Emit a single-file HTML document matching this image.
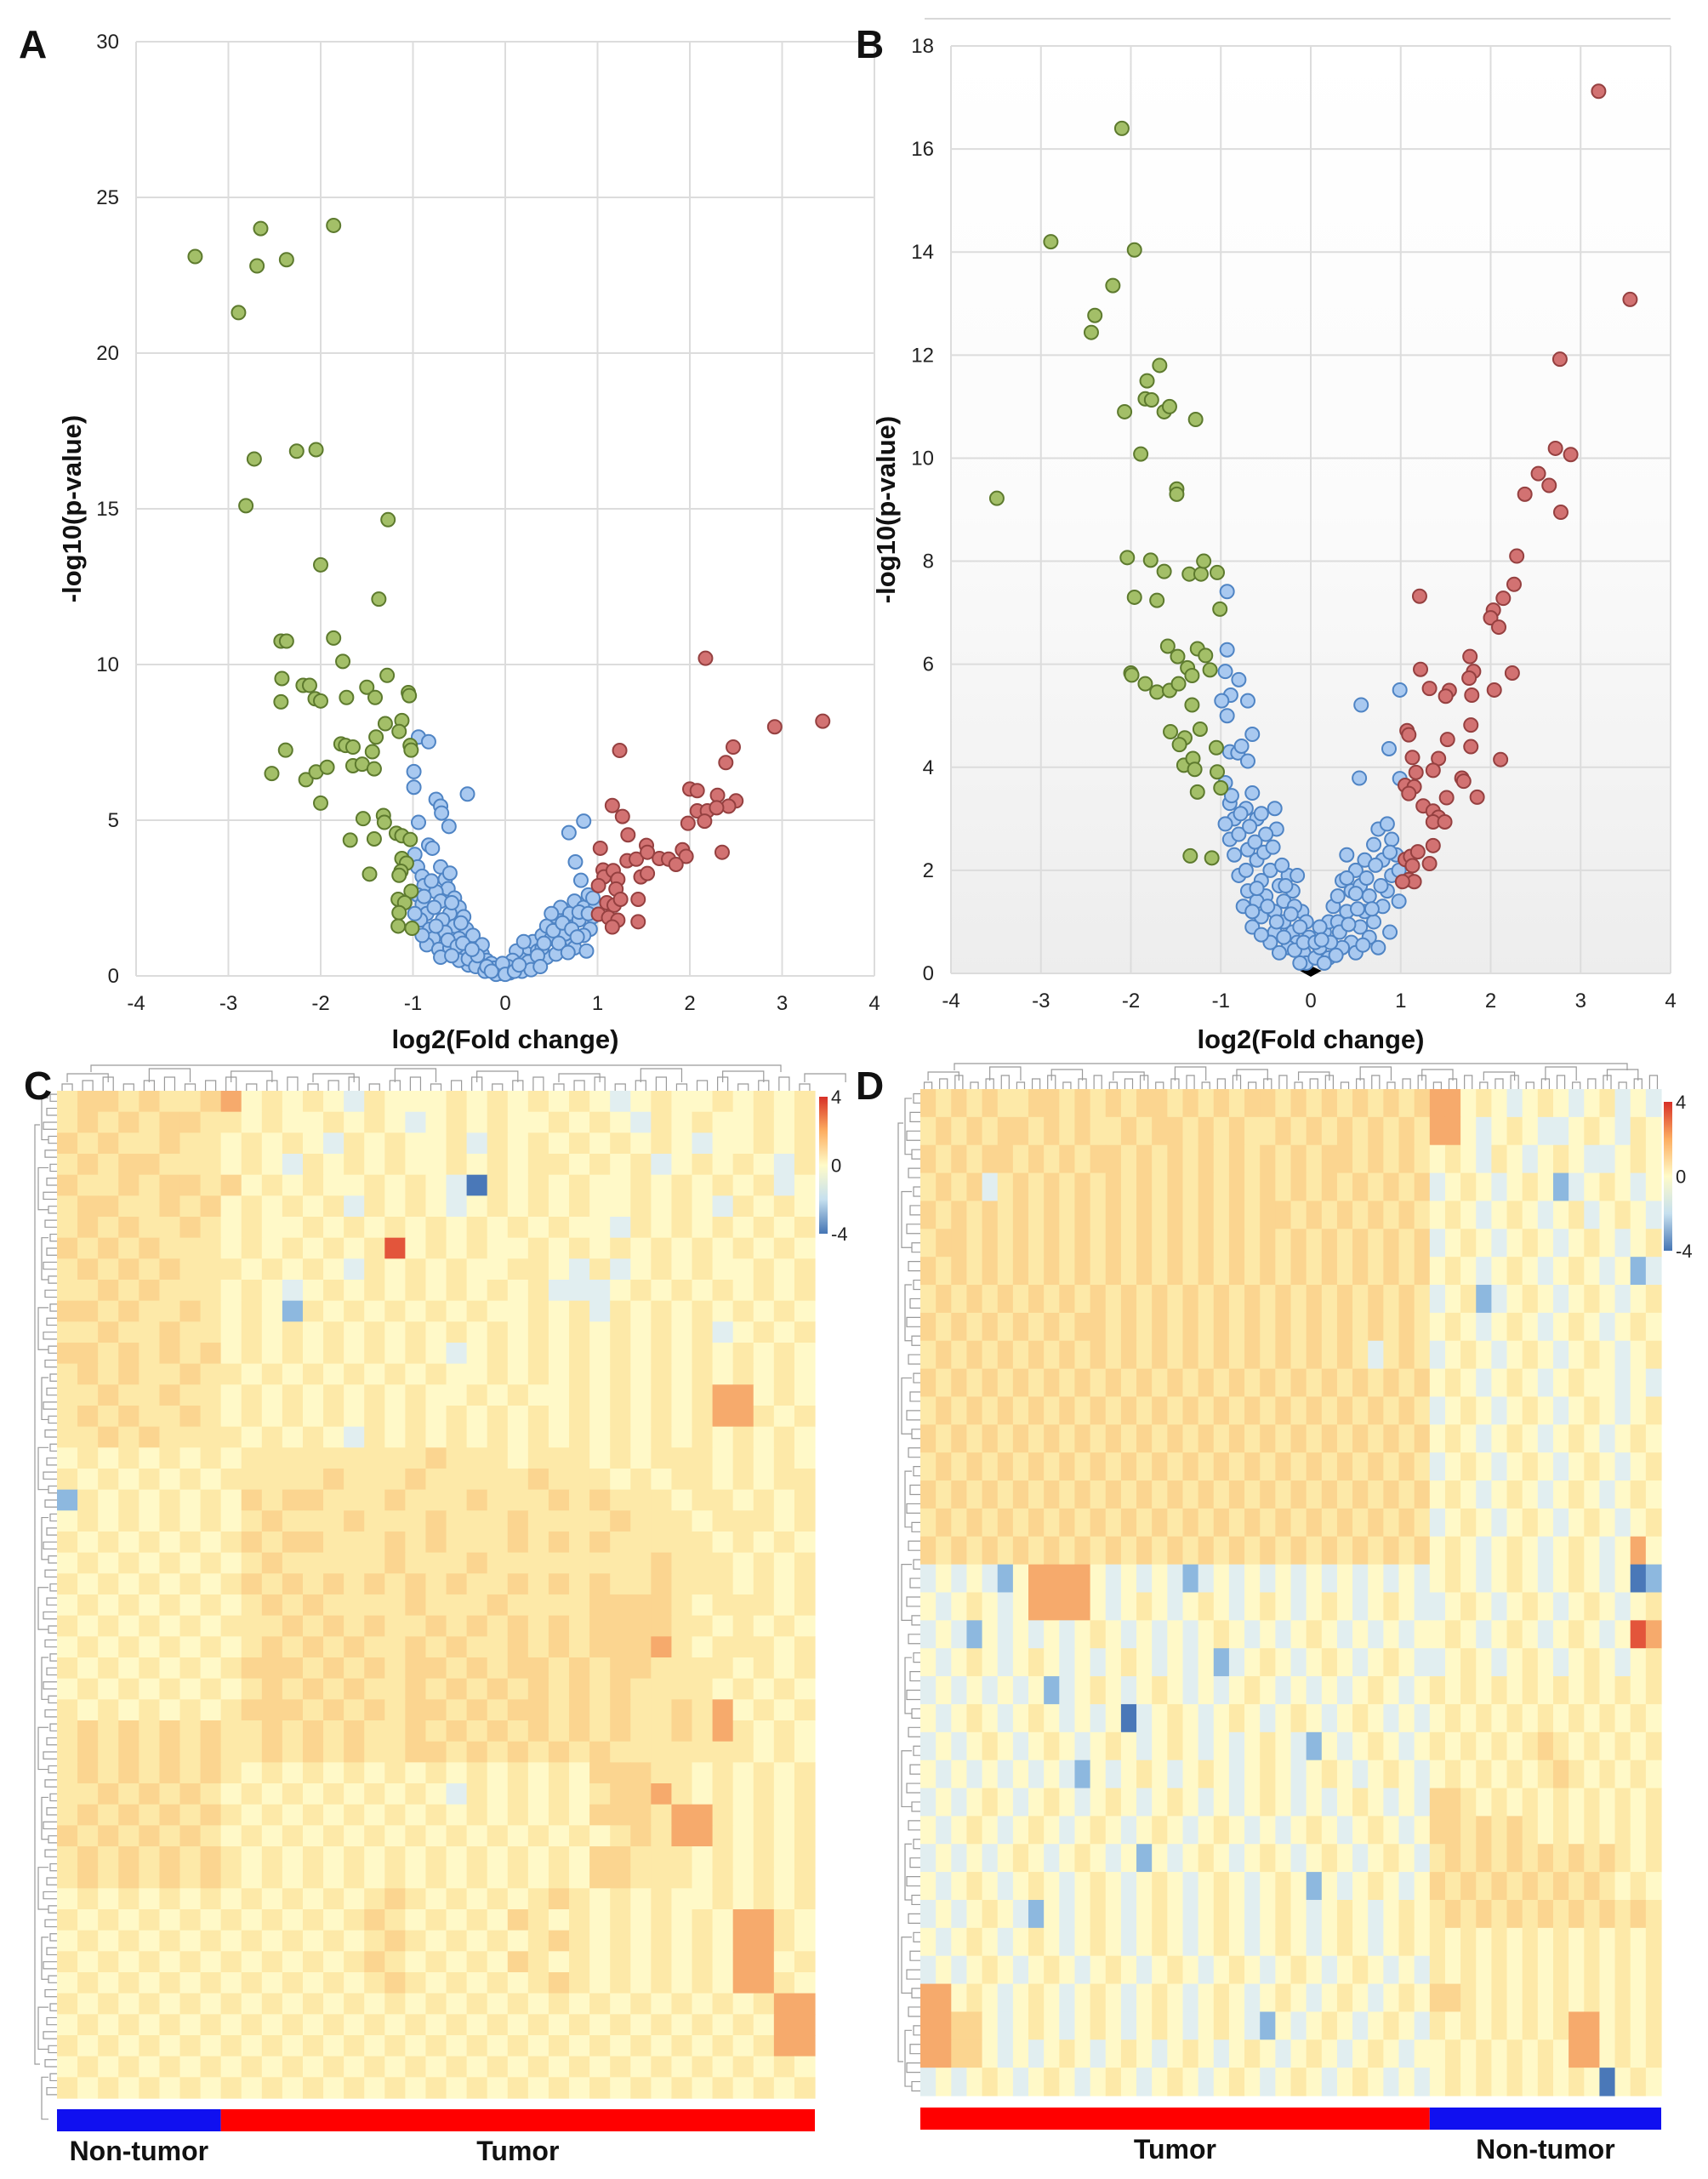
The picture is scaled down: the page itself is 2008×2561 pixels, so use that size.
<!DOCTYPE html>
<html><head><meta charset="utf-8"><style>
html,body{margin:0;padding:0;background:#fff;}
svg{display:block;font-family:"Liberation Sans",sans-serif;}
</style></head><body>
<svg id="fig" width="2008" height="2561" viewBox="0 0 2008 2561">
<defs>
<linearGradient id="bgB" x1="0" y1="0" x2="0" y2="1">
<stop offset="0" stop-color="#ffffff"/><stop offset="0.5" stop-color="#fbfbfb"/><stop offset="1" stop-color="#ededed"/>
</linearGradient>
<linearGradient id="cbar" x1="0" y1="0" x2="0" y2="1">
<stop offset="0" stop-color="#d73027"/><stop offset="0.25" stop-color="#fdae61"/><stop offset="0.5" stop-color="#fffbc8"/><stop offset="0.75" stop-color="#c6e0ef"/><stop offset="1" stop-color="#4575b4"/>
</linearGradient>
</defs>
<g id="layer"></g>
</svg>
<script>
// ---- Volcano A data ----
const aGreen=[[-3.36,23.1],[-2.65,24.0],[-2.69,22.8],[-2.37,23.0],[-1.86,24.1],[-2.89,21.3],[-2.26,16.85],[-2.05,16.9],[-2.72,16.6],[-2.81,15.1],[-1.27,14.65],[-2.0,13.2],[-1.37,12.1],[-2.43,10.75],[-2.37,10.75],[-1.86,10.85],[-1.76,10.1],[-2.42,9.55],[-1.28,9.65],[-2.19,9.33],[-2.12,9.33],[-2.43,8.8],[-2.06,8.9],[-2.0,8.83],[-1.72,8.94],[-1.5,9.27],[-1.41,8.94],[-1.05,9.1],[-1.04,9.0],[-1.3,8.1],[-1.12,8.2],[-1.15,7.85],[-1.03,7.4],[-1.02,7.25],[-1.78,7.45],[-1.73,7.4],[-1.65,7.35],[-1.4,7.67],[-1.44,7.2],[-2.38,7.25],[-2.53,6.5],[-2.16,6.3],[-2.05,6.55],[-1.93,6.7],[-1.65,6.75],[-1.55,6.8],[-1.42,6.65],[-2.0,5.55],[-1.54,5.05],[-1.32,5.15],[-1.31,4.93],[-1.68,4.36],[-1.42,4.4],[-1.18,4.58],[-1.12,4.5],[-1.03,4.38],[-1.12,3.77],[-1.07,3.62],[-1.13,3.36],[-1.15,3.23],[-1.47,3.27],[-1.02,2.72],[-1.16,2.46],[-1.09,2.35],[-1.15,2.03],[-1.16,1.6],[-1.01,1.53]];
const aRed=[[2.17,10.2],[3.44,8.18],[2.92,8.0],[2.47,7.35],[1.24,7.24],[2.39,6.85],[2.0,6.0],[2.08,5.95],[2.3,5.8],[2.5,5.62],[2.42,5.45],[2.08,5.3],[2.19,5.3],[2.29,5.4],[2.16,4.97],[1.98,4.9],[1.16,5.47],[1.27,5.12],[1.33,4.53],[2.35,3.97],[1.03,4.1],[1.53,4.19],[1.92,4.05],[1.32,3.7],[1.42,3.75],[1.54,3.97],[1.67,3.77],[1.77,3.75],[1.96,3.84],[1.85,3.58],[1.06,3.4],[1.07,3.18],[1.17,3.38],[1.22,3.1],[1.47,3.18],[1.54,3.29],[1.01,2.9],[1.2,2.79],[1.1,2.35],[1.18,2.27],[1.25,2.46],[1.44,2.46],[1.01,1.98],[1.12,1.87],[1.22,1.79],[1.16,1.57],[1.44,1.74]];
const aBlue=[[-0.94,7.67],[-0.83,7.52],[-0.99,6.56],[-0.99,6.06],[-0.41,5.84],[-0.75,5.67],[-0.7,5.45],[-0.69,5.23],[-0.61,4.8],[-0.94,4.93],[0.85,4.97],[0.69,4.6],[-0.83,4.2],[-0.79,4.1],[0.76,3.66],[0.82,3.07],
[-0.98,3.9],[-0.95,3.5],[-0.9,3.2],[-0.88,2.9],[-0.95,2.6],[-0.9,2.3],[-0.85,2.0],[-0.92,1.8],[-0.82,1.5],[-0.78,1.2],[-0.85,1.0],[-0.72,0.85],[-0.7,3.5],[-0.65,3.1],[-0.6,3.3],[-0.62,2.8],[-0.75,2.7],[-0.7,2.4],[-0.55,2.5],[-0.5,2.2],[-0.6,2.0],[-0.68,1.8],[-0.45,1.9],[-0.42,1.5],[-0.55,1.6],[-0.65,1.4],[-0.5,1.2],[-0.38,1.1],[-0.6,0.9],[-0.45,0.8],[-0.3,0.9],[-0.35,0.6],[-0.25,0.7],[-0.2,0.5],[-0.15,0.4],[-0.28,0.4],[-0.12,0.25],[-0.08,0.15],[-0.05,0.08],[-0.18,0.2],[-0.4,0.35],[-0.5,0.5],[-0.8,3.05],[-0.77,2.2],[-0.98,2.0],[-0.35,1.3],[-0.25,1.0],
[-0.9,1.3],[-0.75,1.6],[-0.62,1.15],[-0.52,0.95],[-0.4,0.55],[-0.32,0.3],[-0.22,0.15],[-0.1,0.05],[-0.7,0.6],[-0.58,0.65],[-0.46,1.05],[-0.3,0.65],[-0.2,0.3],[-0.15,0.15],[-0.88,2.55],[-0.58,2.35],[-0.48,1.7],[-0.36,0.85],
[0.05,0.1],[0.1,0.3],[0.15,0.5],[0.2,0.7],[0.25,0.9],[0.12,0.8],[0.08,0.5],[0.3,1.1],[0.35,0.8],[0.4,1.3],[0.45,1.6],[0.5,1.2],[0.55,1.9],[0.6,2.2],[0.5,2.0],[0.65,1.6],[0.7,2.0],[0.75,2.4],[0.8,1.8],[0.85,2.2],[0.9,2.6],[0.95,1.9],[0.92,1.5],[0.85,1.3],[0.7,1.1],[0.6,0.9],[0.45,0.6],[0.3,0.4],[0.2,0.3],[0.55,0.7],[0.75,0.9],[0.88,0.8],[0.65,1.35],[0.98,2.3],[0.4,0.9],[0.2,1.1],[0.18,0.15],[0.03,0.3],[-0.03,0.4],[0.0,0.05],
[0.1,0.15],[0.25,0.45],[0.35,0.65],[0.42,1.05],[0.52,1.45],[0.62,1.7],[0.72,1.5],[0.8,2.05],[0.9,2.0],[0.95,2.5],[0.28,0.2],[0.38,0.3],[0.15,0.35],[0.58,1.05],[0.68,0.75],[0.78,1.25]];
const aXTicks=[-4,-3,-2,-1,0,1,2,3,4];
const aYTicks=[0,5,10,15,20,25,30];
// ---- Volcano B data ----
const bGreen=[[-3.49,9.22],[-2.89,14.2],[-2.1,16.4],[-1.96,14.04],[-2.2,13.35],[-2.4,12.77],[-2.44,12.44],[-1.68,11.8],[-1.82,11.5],[-1.84,11.15],[-1.77,11.13],[-1.63,10.9],[-1.57,11.0],[-2.07,10.9],[-1.28,10.75],[-1.89,10.08],[-1.49,9.4],[-1.49,9.3],[-2.04,8.07],[-1.78,8.02],[-1.63,7.8],[-1.35,7.75],[-1.22,7.75],[-1.19,8.0],[-1.04,7.78],[-1.01,7.07],[-1.96,7.3],[-1.71,7.24],[-1.59,6.35],[-1.26,6.3],[-1.48,6.15],[-1.17,6.17],[-2.0,5.83],[-1.99,5.79],[-1.84,5.62],[-1.71,5.46],[-1.57,5.49],[-1.47,5.62],[-1.37,5.93],[-1.32,5.78],[-1.12,5.89],[-1.32,5.21],[-1.56,4.69],[-1.23,4.74],[-1.4,4.57],[-1.46,4.44],[-1.05,4.38],[-1.41,4.04],[-1.31,4.17],[-1.29,3.96],[-1.04,3.91],[-1.0,3.6],[-1.26,3.52],[-1.34,2.28],[-1.1,2.24]];
const bRed=[[3.2,17.12],[3.55,13.08],[2.77,11.92],[2.72,10.19],[2.89,10.07],[2.53,9.7],[2.65,9.47],[2.38,9.3],[2.78,8.95],[2.29,8.1],[2.26,7.55],[2.14,7.28],[1.21,7.32],[2.03,7.05],[2.0,6.9],[2.09,6.72],[1.77,6.15],[1.81,5.86],[1.76,5.73],[2.24,5.83],[2.04,5.5],[1.22,5.9],[1.32,5.53],[1.54,5.49],[1.5,5.38],[1.79,5.4],[1.78,4.82],[1.07,4.71],[1.09,4.63],[1.52,4.54],[1.78,4.4],[1.13,4.19],[1.42,4.17],[2.11,4.15],[1.17,3.9],[1.36,3.94],[1.68,3.79],[1.7,3.73],[1.05,3.65],[1.15,3.62],[1.09,3.49],[1.51,3.41],[1.85,3.42],[1.25,3.25],[1.36,3.15],[1.42,3.03],[1.36,2.94],[1.49,2.94],[1.36,2.48],[1.05,2.21],[1.11,2.27],[1.19,2.36],[1.13,2.09],[1.32,2.13],[1.09,1.82],[1.15,1.78],[1.02,1.78]];
const bBlue=[[-0.93,7.41],[-0.93,6.28],[-0.95,5.86],[-0.8,5.7],[-0.89,5.4],[-0.7,5.29],[-0.99,5.29],[-0.93,5.0],[-0.65,4.64],[0.56,5.21],[0.99,5.5],[0.87,4.36],[0.54,3.79],[0.99,3.78],[-0.9,4.3],[-0.81,4.28],[-0.77,4.41],[-0.7,4.12],
[-0.95,3.7],[-0.9,3.3],[-0.85,3.0],[-0.95,2.9],[-0.9,2.6],[-0.8,2.7],[-0.72,3.2],[-0.65,3.5],[-0.6,3.0],[-0.55,3.1],[-0.4,3.2],[-0.38,2.8],[-0.5,2.7],[-0.7,2.4],[-0.6,2.2],[-0.85,2.3],[-0.8,1.9],[-0.7,1.6],[-0.75,1.3],[-0.55,1.8],[-0.5,1.5],[-0.45,2.0],[-0.35,1.7],[-0.3,1.4],[-0.4,1.2],[-0.55,1.1],[-0.6,1.4],[-0.25,1.9],[-0.2,1.6],[-0.15,1.9],[-0.3,1.0],[-0.2,0.8],[-0.1,1.2],[-0.15,0.6],[-0.25,0.5],[-0.4,0.8],[-0.08,0.4],[-0.05,0.2],[-0.12,0.2],[-0.35,0.4],[-0.45,0.6],[-0.65,0.9],[-0.02,0.7],[-0.05,1.0],
[-0.88,3.45],[-0.78,3.1],[-0.68,2.85],[-0.62,2.55],[-0.52,2.35],[-0.42,2.45],[-0.32,2.1],[-0.28,1.7],[-0.18,1.3],[-0.12,0.9],[-0.22,1.15],[-0.48,1.3],[-0.38,1.0],[-0.3,0.7],[-0.18,0.45],[-0.08,0.6],[-0.55,0.75],[-0.65,1.2],[-0.72,2.0],[-0.6,1.65],
[0.05,0.3],[0.1,0.5],[0.15,0.8],[0.2,1.0],[0.25,1.3],[0.3,1.5],[0.35,1.8],[0.3,1.0],[0.4,1.2],[0.45,1.6],[0.5,2.0],[0.55,1.7],[0.6,2.2],[0.65,1.5],[0.7,2.5],[0.75,2.8],[0.8,2.2],[0.85,2.9],[0.9,2.6],[0.95,2.3],[0.9,1.9],[0.85,1.6],[0.8,1.3],[0.7,1.0],[0.55,0.9],[0.45,0.6],[0.35,0.5],[0.2,0.3],[0.88,0.8],[0.98,1.4],[0.6,1.2],[0.4,2.3],[0.5,0.4],[0.15,0.2],[0.1,0.9],[0.05,0.6],[0.65,0.7],[0.75,0.5],[0.98,2.0],
[0.22,0.6],[0.32,0.8],[0.42,0.95],[0.52,1.25],[0.62,1.85],[0.72,2.1],[0.78,1.7],[0.88,2.35],[0.68,1.25],[0.58,0.55],[0.28,0.35],[0.12,0.65],[0.4,1.85],[0.5,1.55]];
const bXTicks=[-4,-3,-2,-1,0,1,2,3,4];
const bYTicks=[0,2,4,6,8,10,12,14,16,18];
// ---- Heatmap C (levels 0..7 : blue -> red) ----
const cRows=[
"4554544563434324333434343432343343434","4545455443433434323434334343243433434","5454454434343243433424343434343233434","4545544434324343433434344343423434324",
"5445455453434334343204343433434343423","4554454534343424343234343433434324343","4545445434334343434343434332434343434","5454544434343434734343343434343434343",
"4545454443434324343433443242343433434","4454544434323434343434342223434343434","5545445434314343434343343424343434343","4454454434343434343434343434343423434",
"5545454534343434343234343434343434343","4545445443434343434334343434343434343","4454454434343434343343433434343466343","4545445434343434343434343434343466434",
"4454544443434324343434343434343434343","3434343434444444445444344434344434343","4343434344444544454444454443434434344","1434343435455444544454445454443443434",
"3434343434544454445444544445444344434","4343434345455444545444545454444434343","3434343434544444544454444444454443434","4343434345454545454544545454454443434",
"3434343434545444454445444455554344434","4343434344454545445454545455554434343","3434343434545454454544545455564344434","4343434345554545455454554545544443434",
"3434343434545454454545454545444434343","4343434345554545455454554545445463434","4545454544545454454545454545445464343","4545454544545454455454545454444444343",
"4545454543434343434343434355544343434","4454545434343434343243434345564343434","4545454543434343434343434355546643434","5454545434343434343434343434546643434",
"4545454543434343434343434355444343434","4545454543434343434343434355444343434","3434343434343434543434345434343343434","4343434343434345434343543434343436643",
"3434343434343434543434345434343436643","4343434343434345434343543434343436634","3434343434343434543434345434343436643","4343434343434343434343434343434343466",
"3434343434343434343434343434343434366","4343434343434343434343434343434343466","3434343434343434343434343434343434343","4343434343434343434343434343434343434"];
const cGroups=["Non-tumor","Tumor"];
const cGroupCols=[8,29];
// ---- Heatmap D ----
const dRows=[
"545454455454545545454554545454545663432343234232","454545545454454554545445454545454663234322343243","545455454545545454545454545545454343243234322343",
"454524545454545454545454545454545234323431234323","545454545454545454545455454545454343234323423432","455454545454545454545454545454545234323432343234",
"545454545454545454545454545454545343234323432312","454545454545454545454545454545454234123432343234","545454545455454545454545454545454343234323432343",
"454545454545454545454545454542454234323432343234","545454545454545454545454545454545343234323433232","454545454545454545454545454545454234323432343234",
"545454545454545454545454545454545343234323432343","454545454545454545454545454545454234323432343234","545454545454545454545454545454545343234323432343",
"454545454545454545454545454545454234323432343234","545454545454545454545454545454545343234323432363","232321366663232321232323232323232343234323432301",
"323432366663234323432343234323432234323432343234","232132323234323232343232343232323343234323432376","323432343232343232312343234323432234323432343234",
"232323231234323432323432323234323434343434343434","323432343232302343234323432343232343434343434343","232343234323432343232343213234323434343454343434",
"323232323213234323432343234323432343434345434343","232343234323432343232343232343232554343434343434","323432343234323432343232343234323554545434343434",
"232323432343231323432343234323432454545454545434","323432343234323432343234313234323545454545454343","232343213234323432343234323432343454545454545454",
"323432343234323432343234323432343434343434343434","232343234323432343234323432343232434343434343434","663432343234323432343234323432343554343434343434",
"665532343234323432343213234323432434343434663434","665532323432343234323432343234323343434343663434","232343234323432343234323432343232343434343430343"];
const dGroups=["Tumor","Non-tumor"];
const dGroupCols=[33,15];
const levelColors=["#4a78b8","#8db8df","#e1eef0","#fff9c8","#fde9a8","#fbd590","#f6aa6c","#e3553b"];

const NS="http://www.w3.org/2000/svg";
const layer=document.getElementById('layer');
function mk(tag,attrs,parent){const e=document.createElementNS(NS,tag);for(const k in attrs)e.setAttribute(k,attrs[k]);(parent||layer).appendChild(e);return e;}
function txt(s,attrs,parent){const e=mk('text',attrs,parent);e.textContent=s;return e;}

function volcano(cfg){
  const g=mk('g',{});
  
  
  const {x0,x1,y0,y1,ymax}=cfg;
  const sx=v=>x0+(v+4)/8*(x1-x0);
  const sy=v=>y1-v/ymax*(y1-y0);
  if(cfg.bg){const r=mk('rect',{x:x0,y:y0,width:x1-x0,height:y1-y0,fill:'url(#bgB)'},g);
    
    }
  cfg.xt.forEach(t=>{const l=mk('line',{x1:sx(t),x2:sx(t),y1:y0,y2:y1,stroke:'#dcdcdc','stroke-width':2},g);
    
    
    const tl=txt(String(t),{x:sx(t),y:y1+40,'font-size':24,'text-anchor':'middle',fill:'#222'},g);
    
    });
  cfg.yt.forEach(t=>{const l=mk('line',{x1:x0,x2:x1,y1:sy(t),y2:sy(t),stroke:'#dcdcdc','stroke-width':2},g);
    
    
    const tl=txt(String(t),{x:x0-20,y:sy(t)+8,'font-size':24,'text-anchor':'end',fill:'#222'},g);
    
    });
  const xt=txt('log2(Fold change)',{x:(x0+x1)/2,y:1232,'font-size':31,'font-weight':'bold','text-anchor':'middle',fill:'#111'},g);
  
  
  const cy=(y0+y1)/2;
  const yt=txt('-log10(p-value)',{x:cfg.ytx,y:cy,'font-size':31,'font-weight':'bold','text-anchor':'middle',fill:'#111',transform:`rotate(-90 ${cfg.ytx} ${cy})`},g);
  
  
  const pl=txt(cfg.letter,{x:cfg.lx,y:cfg.ly,'font-size':46,'font-weight':'bold',fill:'#111'},g);
  
  
  const tip=mk('path',{d:`M${sx(-0.12)} ${sy(0)-3} L${sx(0)} ${sy(0)+4} L${sx(0.12)} ${sy(0)-3} L${sx(0)} ${sy(0)-9}Z`,fill:'#000'},g);
  
  
  const series=[[cfg.blue,'#a9c9f0','#4f84c4','blue-point'],[cfg.green,'#a3bf68','#5d7a2e','green-point'],[cfg.red,'#d27272','#954040','red-point']];
  series.forEach(([pts,f,s,n])=>pts.forEach(p=>{
    const c=mk('circle',{cx:sx(p[0]),cy:sy(p[1]),r:8,fill:f,stroke:s,'stroke-width':2},g);
    
    }));
}
volcano({name:'volcano-plot-a',x0:160,x1:1028,y0:49,y1:1147,ymax:30,xt:aXTicks,yt:aYTicks,green:aGreen,red:aRed,blue:aBlue,ytx:95,letter:'A',lx:22,ly:68});
const topLine=mk('line',{x1:1087,x2:1964,y1:22,y2:22,stroke:'#d8d8d8','stroke-width':2});


volcano({name:'volcano-plot-b',x0:1118,x1:1964,y0:54,y1:1144,ymax:18,xt:bXTicks,yt:bYTicks,green:bGreen,red:bRed,blue:bBlue,ytx:1052,letter:'B',lx:1006,ly:68,bg:true});

function heatmap(cfg){
  const g=mk('g',{});
  
  
  const rows=cfg.rows,nr=rows.length,nc=cfg.ncols;
  const cw=(cfg.x1-cfg.x0)/nc,rh=(cfg.y1-cfg.y0)/nr;
  rows.forEach((row,i)=>{for(let j=0;j<nc;j++){
    const ch=row[j]||'3';
    const r=mk('rect',{x:(cfg.x0+j*cw).toFixed(2),y:(cfg.y0+i*rh).toFixed(2),width:(cw+0.6).toFixed(2),height:(rh+0.6).toFixed(2),fill:levelColors[+ch]},g);
    
    }});
  let d='';
  const leaves=nc*2;const lw=(cfg.x1-cfg.x0)/leaves;
  for(let k=0;k<leaves;k+=2){const a=cfg.x0+(k+0.5)*lw,b=cfg.x0+(k+1.5)*lw,h=cfg.y0-8-(k%6)*2;
    d+=`M${a} ${cfg.y0} V${h} H${b} V${cfg.y0} `;}
  for(let k=0;k<leaves;k+=8){const a=cfg.x0+(k+1)*lw,b=cfg.x0+(k+5)*lw,h=cfg.y0-20-(k%3)*3;
    d+=`M${a} ${cfg.y0-10} V${h} H${b} V${cfg.y0-10} `;}
  d+=`M${cfg.x0+40} ${cfg.y0-22} V${cfg.y0-30} H${cfg.x1-40} V${cfg.y0-22} `;
  const rl=nr*3,rw=(cfg.y1-cfg.y0)/rl;
  for(let k=0;k<rl;k+=2){const a=cfg.y0+(k+0.5)*rw,b=cfg.y0+(k+1.5)*rw,h=cfg.x0-8-(k%5)*2;
    d+=`M${cfg.x0} ${a} H${h} V${b} H${cfg.x0} `;}
  for(let k=0;k<rl;k+=10){const a=cfg.y0+(k+1)*rw,b=cfg.y0+(k+7)*rw,h=cfg.x0-18-(k%4)*2;
    d+=`M${cfg.x0-10} ${a} H${h} V${b} H${cfg.x0-10} `;}
  d+=`M${cfg.x0-20} ${cfg.y0+40} H${cfg.x0-26} V${cfg.y1-40} H${cfg.x0-20} `;
  const den=mk('path',{d:d,fill:'none',stroke:'#9a9a9a','stroke-width':1.2},g);
  
  
  let c=0;cfg.groups.forEach((gname,gi)=>{
    const w=cfg.gcols[gi]*cw;
    const r=mk('rect',{x:cfg.x0+c*cw,y:cfg.by,width:w,height:26,fill:cfg.gcolors[gi]},g);
    
    
    const t=txt(gname,{x:cfg.x0+c*cw+w/2,y:cfg.by+60,'font-size':32,'font-weight':'bold','text-anchor':'middle',fill:'#111'},g);
    
    
    c+=cfg.gcols[gi];});
  const cb=mk('rect',{x:cfg.cbx,y:cfg.cby0,width:10,height:cfg.cby1-cfg.cby0,fill:'url(#cbar)'},g);
  
  
  [['4',0],['0',0.5],['-4',1]].forEach(([s,f])=>{
    const t=txt(s,{x:cfg.cbx+14,y:cfg.cby0+f*(cfg.cby1-cfg.cby0)+8,'font-size':22,fill:'#222'},g);
    
    });
  const pl=txt(cfg.letter,{x:cfg.lx,y:1292,'font-size':46,'font-weight':'bold',fill:'#111'},g);
  
  
}
heatmap({name:'heatmap-c',rows:cRows,ncols:37,x0:67,x1:958,y0:1282,y1:2466,groups:cGroups,gcols:cGroupCols,gcolors:['#1010f0','#ff0000'],by:2479,cbx:963,cby0:1289,cby1:1450,letter:'C',lx:28});
heatmap({name:'heatmap-d',rows:dRows,ncols:48,x0:1082,x1:1953,y0:1280,y1:2463,groups:dGroups,gcols:dGroupCols,gcolors:['#ff0000','#1010f0'],by:2477,cbx:1956,cby0:1295,cby1:1470,letter:'D',lx:1006});
</script>
</body></html>
